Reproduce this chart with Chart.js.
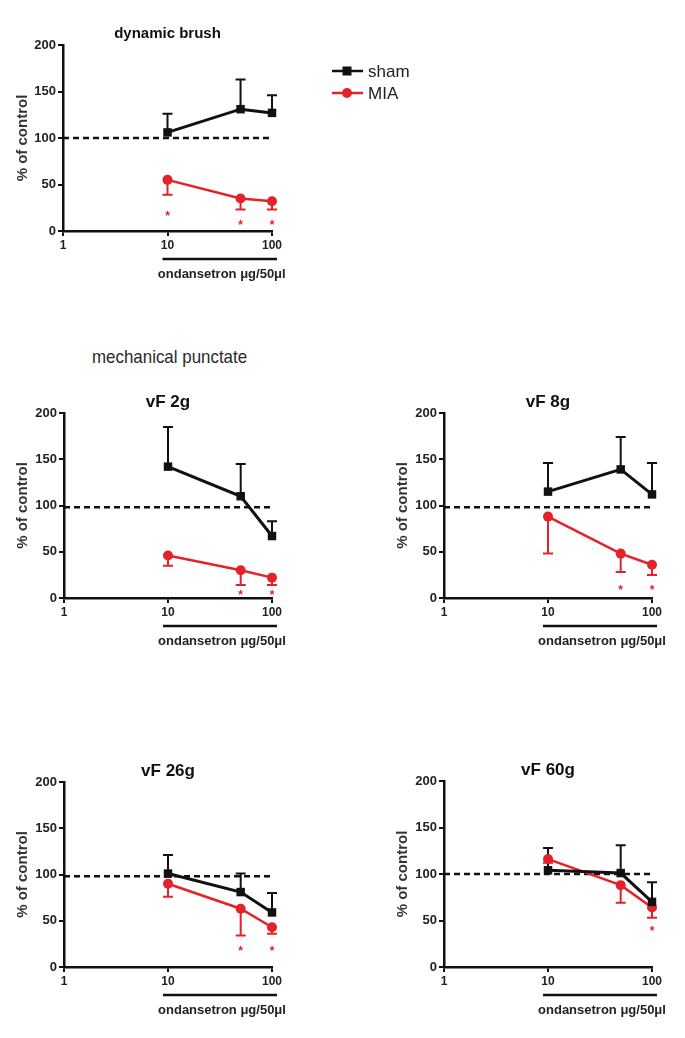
<!DOCTYPE html>
<html>
<head>
<meta charset="utf-8">
<script src="https://cdn.jsdelivr.net/npm/chart.js@4.4.1/dist/chart.umd.min.js"></script>
<style>
  body { margin: 0; background: #fff; }
  #page { position: relative; width: 685px; height: 1038px; overflow: hidden; }
  canvas { position: absolute; }
  #mech { position: absolute; left: 92px; top: 346px; font: 19px "Liberation Sans", Arial, sans-serif; color: #2a2a2a;
          white-space: nowrap; transform: scaleX(0.89); transform-origin: left top; }
</style>
</head>
<body>
<div id="page">
  <canvas id="brush"></canvas>
  <div id="mech">mechanical punctate</div>
  <canvas id="vf2"></canvas>
  <canvas id="vf8"></canvas>
  <canvas id="vf26"></canvas>
  <canvas id="vf60"></canvas>
</div>
<script>
// doses (µg/50µl) and x tick labels
const doses = [10, 50, 100];
const xTicks = [1, 10, 100];

// dynamic brush
const brushSham = [106, 131, 127];
const brushShamSem = [20, 32, 19];
const brushMia = [55, 35, 32];
const brushMiaSem = [16, 12, 9];
const brushStars = [19, 10, 10];

// vF 2g
const vf2Sham = [142, 110, 67];
const vf2ShamSem = [43, 35, 16];
const vf2Mia = [46, 30, 22];
const vf2MiaSem = [11, 16, 8];
const vf2Stars = [null, 6, 6];

// vF 8g
const vf8Sham = [115, 139, 112];
const vf8ShamSem = [31, 35, 34];
const vf8Mia = [88, 48, 36];
const vf8MiaSem = [40, 20, 11];
const vf8Stars = [null, 12, 12];

// vF 26g
const vf26Sham = [101, 81, 59];
const vf26ShamSem = [20, 20, 21];
const vf26Mia = [90, 63, 43];
const vf26MiaSem = [14, 29, 7];
const vf26Stars = [null, 21, 21];

// vF 60g
const vf60Sham = [104, 101, 70];
const vf60ShamSem = [24, 30, 21];
const vf60Mia = [116, 88, 64];
const vf60MiaSem = [4, 19, 11];
const vf60Stars = [null, null, 42];

const BLACK = '#111';
const RED = '#e3222a';
const TXT = '#222';
const FONT = '"Liberation Sans", Arial, sans-serif';

const pts = arr => arr.map((v, i) => ({ x: doses[i], y: v }));

// error bars, stars, underline label, titles, legend
const extras = {
  id: 'extras',
  beforeDatasetsDraw(chart) {
    const { ctx, scales: { x, y } } = chart;
    chart.data.datasets.forEach(ds => {
      if (!ds.sem) return;
      ctx.save();
      ctx.strokeStyle = ds.borderColor;
      ctx.lineWidth = 2;
      ds.data.forEach((p, j) => {
        const px = x.getPixelForValue(p.x);
        const y0 = y.getPixelForValue(p.y);
        const y1 = y.getPixelForValue(p.y + ds.dir * ds.sem[j]);
        ctx.beginPath();
        ctx.moveTo(px, y0); ctx.lineTo(px, y1);
        ctx.moveTo(px - 5, y1); ctx.lineTo(px + 5, y1);
        ctx.stroke();
      });
      ctx.restore();
    });
  },
  afterDatasetsDraw(chart, args, opts) {
    const { ctx, chartArea: a, scales: { x, y } } = chart;
    ctx.save();
    // significance stars
    ctx.fillStyle = RED;
    ctx.font = 'bold 12px ' + FONT;
    ctx.textAlign = 'center';
    ctx.textBaseline = 'alphabetic';
    (opts.stars || []).forEach((s, j) => {
      if (s == null) return;
      ctx.fillText('*', x.getPixelForValue(doses[j]), y.getPixelForValue(s) + 7);
    });
    // dose bar + label
    const bx0 = x.getPixelForValue(10) - 5, bx1 = x.getPixelForValue(100) + 5;
    ctx.strokeStyle = BLACK;
    ctx.lineWidth = 2.5;
    ctx.beginPath();
    ctx.moveTo(bx0, a.bottom + 28); ctx.lineTo(bx1, a.bottom + 28);
    ctx.stroke();
    ctx.fillStyle = TXT;
    ctx.font = 'bold 13px ' + FONT;
    ctx.textBaseline = 'middle';
    ctx.fillText('ondansetron \u03bcg/50\u03bcl', (bx0 + bx1) / 2 + 2, a.bottom + 43);
    // panel title
    ctx.fillStyle = '#111';
    ctx.font = 'bold ' + opts.titleSize + 'px ' + FONT;
    ctx.fillText(opts.title, (a.left + a.right) / 2, a.top - 11);
    // legend
    if (opts.legend) {
      chart.data.datasets.slice(0, 2).forEach((ds, i) => {
        const ly = opts.legend.y + i * 22;
        ctx.strokeStyle = ds.borderColor;
        ctx.lineWidth = 2.5;
        ctx.beginPath();
        ctx.moveTo(opts.legend.x, ly); ctx.lineTo(opts.legend.x + 31, ly);
        ctx.stroke();
        ctx.fillStyle = ds.borderColor;
        const cx = opts.legend.x + 15;
        if (ds.pointStyle === 'rect') ctx.fillRect(cx - 4.5, ly - 4.5, 9, 9);
        else { ctx.beginPath(); ctx.arc(cx, ly, 5, 0, Math.PI * 2); ctx.fill(); }
        ctx.fillStyle = TXT;
        ctx.font = '17px ' + FONT;
        ctx.textAlign = 'left';
        ctx.fillText(ds.label, opts.legend.x + 36, ly + 1);
      });
    }
    ctx.restore();
  }
};

function panel(id, box, area, p) {
  const canvas = document.getElementById(id);
  canvas.width = box.w; canvas.height = box.h;
  canvas.style.left = box.l + 'px'; canvas.style.top = box.t + 'px';
  const yW = area.l - box.l;
  const xH = box.t + box.h - area.b;
  new Chart(canvas, {
    type: 'line',
    data: {
      datasets: [
        { label: 'sham', data: pts(p.sham), sem: p.shamSem, dir: 1, borderColor: BLACK, backgroundColor: BLACK,
          borderWidth: 3, pointStyle: 'rect', pointRadius: 6, pointBorderWidth: 0, clip: false },
        { label: 'MIA', data: pts(p.mia), sem: p.miaSem, dir: -1, borderColor: RED, backgroundColor: RED,
          borderWidth: 2.5, pointStyle: 'circle', pointRadius: 5, pointBorderWidth: 0, clip: false },
        { label: 'control', data: [{ x: 1, y: p.ref }, { x: 100, y: p.ref }], borderColor: BLACK,
          borderWidth: 2.5, borderDash: [6, 4], pointRadius: 0, clip: false }
      ]
    },
    options: {
      responsive: false,
      animation: false,
      layout: { padding: { left: 0, top: area.t - box.t, right: box.l + box.w - area.r, bottom: 0 } },
      elements: { line: { tension: 0 } },
      plugins: {
        legend: { display: false },
        tooltip: { enabled: false },
        extras: { title: p.title, titleSize: p.titleSize, stars: p.stars, legend: p.legend }
      },
      scales: {
        x: {
          type: 'logarithmic', min: 1, max: 100,
          afterBuildTicks: s => { s.ticks = xTicks.map(v => ({ value: v })); },
          afterFit: s => { s.height = xH; },
          ticks: { callback: v => String(v), color: TXT, font: { family: FONT, size: 12, weight: 'bold' },
                   padding: 2, maxRotation: 0, autoSkip: false },
          grid: { drawOnChartArea: false, tickLength: 5, color: BLACK, lineWidth: 2 },
          border: { color: BLACK, width: 2.5 }
        },
        y: {
          min: 0, max: 200,
          afterFit: s => { s.width = yW; },
          ticks: { stepSize: 50, color: TXT, font: { family: FONT, size: 13, weight: 'bold' }, padding: 2 },
          grid: { drawOnChartArea: false, tickLength: 5, color: BLACK, lineWidth: 2 },
          border: { color: BLACK, width: 2.5 },
          title: { display: true, text: '% of control', color: '#333',
                   font: { family: FONT, size: 15, weight: 'bold' }, padding: { top: 14, bottom: 0 } }
        }
      }
    },
    plugins: [extras]
  });
}

panel('brush', { l: 0, t: 0, w: 450, h: 290 }, { l: 63, t: 45, r: 272, b: 231 },
  { sham: brushSham, shamSem: brushShamSem, mia: brushMia, miaSem: brushMiaSem, stars: brushStars,
    ref: 100, title: 'dynamic brush', titleSize: 15, legend: { x: 332, y: 71 } });
panel('vf2', { l: 0, t: 370, w: 300, h: 290 }, { l: 64, t: 413, r: 272, b: 598 },
  { sham: vf2Sham, shamSem: vf2ShamSem, mia: vf2Mia, miaSem: vf2MiaSem, stars: vf2Stars,
    ref: 98, title: 'vF 2g', titleSize: 17 });
panel('vf8', { l: 380, t: 370, w: 305, h: 290 }, { l: 444, t: 413, r: 652, b: 598 },
  { sham: vf8Sham, shamSem: vf8ShamSem, mia: vf8Mia, miaSem: vf8MiaSem, stars: vf8Stars,
    ref: 98, title: 'vF 8g', titleSize: 17 });
panel('vf26', { l: 0, t: 745, w: 300, h: 293 }, { l: 64, t: 782, r: 272, b: 967 },
  { sham: vf26Sham, shamSem: vf26ShamSem, mia: vf26Mia, miaSem: vf26MiaSem, stars: vf26Stars,
    ref: 98, title: 'vF 26g', titleSize: 17 });
panel('vf60', { l: 380, t: 745, w: 305, h: 293 }, { l: 444, t: 781, r: 652, b: 967 },
  { sham: vf60Sham, shamSem: vf60ShamSem, mia: vf60Mia, miaSem: vf60MiaSem, stars: vf60Stars,
    ref: 100, title: 'vF 60g', titleSize: 17 });
</script>
</body>
</html>
